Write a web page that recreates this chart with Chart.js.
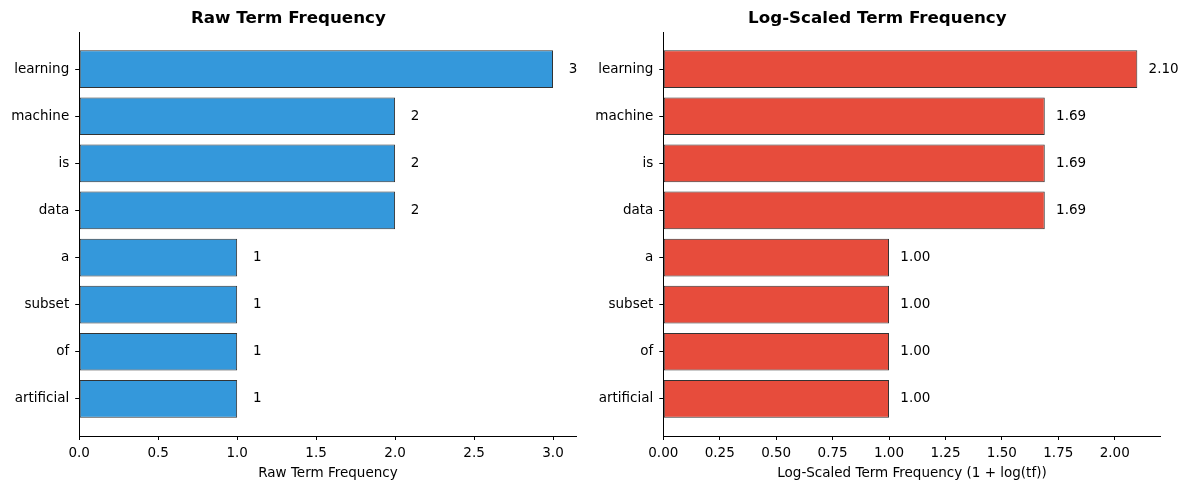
<!DOCTYPE html>
<html>
<head>
<meta charset="utf-8">
<script src="https://cdn.jsdelivr.net/npm/chart.js@4/dist/chart.umd.min.js"></script>
<style>
  html, body { margin: 0; padding: 0; background: #fff; }
  .panel { position: absolute; top: 0; width: 594px; height: 490px; }
  #p1 { left: 0; }
  #p2 { left: 594px; }
</style>
</head>
<body>
<div class="panel" id="p1"><canvas id="c1" width="594" height="490"></canvas></div>
<div class="panel" id="p2"><canvas id="c2" width="594" height="490"></canvas></div>
<script>
// ---- data ----
const categories = ["learning", "machine", "is", "data", "a", "subset", "of", "artificial"];
const rawValues = [3, 2, 2, 2, 1, 1, 1, 1];
const logValues = [2.10, 1.69, 1.69, 1.69, 1.00, 1.00, 1.00, 1.00];
const rawTicks = [0, 0.5, 1.0, 1.5, 2.0, 2.5, 3.0];
const logTicks = [0, 0.25, 0.5, 0.75, 1.0, 1.25, 1.5, 1.75, 2.0];
const rawLimit = [0, 3.15];
const logLimit = [0, 2.2036];

const FONT = "'DejaVu Sans', 'Liberation Sans', sans-serif";
const TICK_SIZE = 13.5;
const TITLE_SIZE = 16.7;

const valueLabels = {
  id: 'valueLabels',
  afterDatasetsDraw(chart, args, opts) {
    const ctx = chart.ctx;
    const xs = chart.scales.x, ys = chart.scales.y;
    const ds = chart.data.datasets[0];
    ctx.save();
    ctx.font = TICK_SIZE + 'px ' + FONT;
    ctx.fillStyle = '#000';
    ctx.textAlign = 'left';
    ctx.textBaseline = 'middle';
    ds.data.forEach((d) => {
      const x = xs.getPixelForValue(d.x + opts.offset);
      const y = ys.getPixelForValue(d.y);
      ctx.fillText(d.x.toFixed(opts.decimals), x, y);
    });
    ctx.restore();
  }
};

function makeChart(canvasId, values, color, title, xTitle, ticks, limit, decimals, labelDecimals, labelOffset, yWidth, padRight) {
  const data = values.map((v, i) => ({ x: v, y: i }));
  return new Chart(document.getElementById(canvasId), {
    type: 'bar',
    data: {
      datasets: [{
        data: data,
        backgroundColor: color,
        borderColor: '#333333',
        borderWidth: 1,
        borderSkipped: false,
        barPercentage: 0.8,
        categoryPercentage: 1.0
      }]
    },
    plugins: [valueLabels],
    options: {
      indexAxis: 'y',
      responsive: false,
      animation: false,
      devicePixelRatio: 1,
      layout: { padding: { left: 0, right: padRight, top: 0, bottom: 8 } },
      plugins: {
        legend: { display: false },
        tooltip: { enabled: false },
        title: {
          display: true,
          text: title,
          color: '#000',
          font: { family: FONT, size: TITLE_SIZE, weight: 'bold', lineHeight: 1.2 },
          padding: { top: 9, bottom: 2.96 }
        },
        valueLabels: { offset: labelOffset, decimals: labelDecimals }
      },
      scales: {
        x: {
          type: 'linear',
          position: 'bottom',
          min: limit[0],
          max: limit[1],
          afterBuildTicks: (s) => { s.ticks = ticks.map(v => ({ value: v })); },
          afterFit: (s) => { s.height = 46; },
          grid: { display: true, drawOnChartArea: false, drawTicks: true, tickLength: 4, color: '#000', tickWidth: 1 },
          border: { display: true, color: '#000', width: 1 },
          ticks: {
            color: '#000',
            padding: 5,
            maxRotation: 0,
            autoSkip: false,
            font: { family: FONT, size: TICK_SIZE },
            callback: (v) => Number(v).toFixed(decimals)
          },
          title: {
            display: true,
            text: xTitle,
            color: '#000',
            font: { family: FONT, size: TICK_SIZE, lineHeight: 1.2 },
            padding: { top: 4, bottom: 0 }
          }
        },
        y: {
          type: 'linear',
          position: 'left',
          reverse: true,
          offset: false,
          min: -0.79,
          max: 7.79,
          afterBuildTicks: (s) => { s.ticks = categories.map((c, i) => ({ value: i })); },
          afterFit: (s) => { s.width = yWidth; },
          grid: { display: true, offset: false, drawOnChartArea: false, drawTicks: true, tickLength: 4, color: '#000', tickWidth: 1 },
          border: { display: true, color: '#000', width: 1 },
          ticks: {
            color: '#000',
            padding: 6,
            autoSkip: false,
            font: { family: FONT, size: TICK_SIZE },
            callback: (v) => categories[v] !== undefined ? categories[v] : ''
          }
        }
      }
    }
  });
}

makeChart('c1', rawValues, '#3498db', 'Raw Term Frequency', 'Raw Term Frequency',
  rawTicks, rawLimit, 1, 0, 0.1, 79.2, 17.3);
makeChart('c2', logValues, '#e74c3c', 'Log-Scaled Term Frequency', 'Log-Scaled Term Frequency (1 + log(tf))',
  logTicks, logLimit, 2, 2, 0.05, 69.3, 27.3);
</script>
</body>
</html>
